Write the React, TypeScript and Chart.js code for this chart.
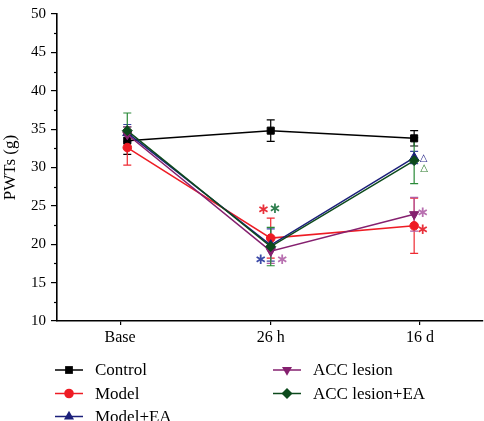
import React, { useEffect, useRef } from "react";
import { Chart, registerables } from "chart.js";

Chart.register(...registerables);

// ---------- data ----------
const categories = ["Base", "26 h", "16 d"];
const seriesNames = ["Control", "Model", "Model+EA", "ACC lesion", "ACC lesion+EA"];

const controlValues = [33.5, 34.8, 33.8];
const controlErrors = [1.8, 1.4, 1.0];
const modelValues = [32.6, 20.8, 22.4];
const modelErrors = [2.3, 2.6, 3.6];
const modelEaValues = [34.5, 19.9, 31.3];
const modelEaErrors = [1.1, 2.1, 0.8];
const accLesionValues = [34.3, 19.1, 23.9];
const accLesionErrors = [1.0, 1.6, 2.2];
const accLesionEaValues = [34.8, 19.7, 30.9];
const accLesionEaErrors = [2.3, 2.5, 3.0];

const pointPositions = [0, 1, 2];
const categoryTickPositions = [-0.05, 1, 2.04];
const yTickValues = [10, 15, 20, 25, 30, 35, 40, 45, 50];
const yMinorTickValues = [12.5, 17.5, 22.5, 27.5, 32.5, 37.5, 42.5, 47.5];

// significance marks: [text, x (category units), y (PWT units), color]
const markTexts = ["∗", "∗", "∗", "∗", "△", "△", "∗", "∗"];
const markX = [0.95, 1.03, 0.93, 1.08, 2.065, 2.07, 2.06, 2.06];
const markY = [24.4, 24.6, 17.9, 17.9, 31.2, 29.9, 24.1, 21.9];
const markColors = ["#e8303a", "#2f7f4f", "#3c4aa8", "#b870b0", "#2a2a8a", "#2a7a2a", "#b870b0", "#e8303a"];

// ---------- styles ----------
const FONT = "'Liberation Serif', 'Times New Roman', serif";
const lineColors = ["#000000", "#ee1c24", "#1b1f7a", "#85206f", "#0c4a1c"];
const errColors = ["#000000", "#ee2a32", "#3a45a0", "#b05ca4", "#2a8a38"];
const pointStyles = ["rect", "circle", "triangle", "triangle", "rectRot"];
const pointRotations = [0, 0, 0, 180, 0];
const pointRadii = [5, 4.3, 5.3, 5.3, 5];

const allValues = [controlValues, modelValues, modelEaValues, accLesionValues, accLesionEaValues];
const allErrors = [controlErrors, modelErrors, modelEaErrors, accLesionErrors, accLesionEaErrors];

function drawMarker(ctx: CanvasRenderingContext2D, style: string, rot: number, x: number, y: number, r: number, color: string) {
  ctx.save();
  ctx.fillStyle = color;
  ctx.beginPath();
  if (style === "rect") {
    const s = Math.SQRT1_2 * r;
    ctx.rect(x - s, y - s, 2 * s, 2 * s);
  } else if (style === "circle") {
    ctx.arc(x, y, r, 0, Math.PI * 2);
  } else if (style === "triangle") {
    const dir = rot === 180 ? -1 : 1;
    const h = r;
    ctx.moveTo(x, y - dir * h);
    ctx.lineTo(x + Math.sin((2 * Math.PI) / 3) * r, y + dir * r * 0.5);
    ctx.lineTo(x - Math.sin((2 * Math.PI) / 3) * r, y + dir * r * 0.5);
    ctx.closePath();
  } else if (style === "rectRot") {
    ctx.moveTo(x - r, y);
    ctx.lineTo(x, y - r);
    ctx.lineTo(x + r, y);
    ctx.lineTo(x, y + r);
    ctx.closePath();
  }
  ctx.fill();
  ctx.restore();
}

const errorBarPlugin = {
  id: "errorBars",
  beforeDatasetsDraw(chart: any) {
    const ctx = chart.ctx;
    const xs = chart.scales.x;
    const ys = chart.scales.y;
    ctx.save();
    allValues.forEach((vals, si) => {
      const errs = allErrors[si];
      ctx.strokeStyle = errColors[si];
      ctx.lineWidth = 1.2;
      vals.forEach((v, i) => {
        const px = xs.getPixelForValue(pointPositions[i]);
        const top = ys.getPixelForValue(v + errs[i]);
        const bot = ys.getPixelForValue(v - errs[i]);
        ctx.beginPath();
        ctx.moveTo(px, top);
        ctx.lineTo(px, bot);
        ctx.moveTo(px - 4, top);
        ctx.lineTo(px + 4, top);
        ctx.moveTo(px - 4, bot);
        ctx.lineTo(px + 4, bot);
        ctx.stroke();
      });
    });
    ctx.restore();
  },
};

const decorPlugin = {
  id: "decor",
  afterDraw(chart: any) {
    const ctx = chart.ctx;
    const xs = chart.scales.x;
    const ys = chart.scales.y;
    ctx.save();
    // minor y ticks
    ctx.strokeStyle = "#000";
    ctx.lineWidth = 1.2;
    const axisX = chart.chartArea.left;
    yMinorTickValues.forEach((v) => {
      const py = Math.round(ys.getPixelForValue(v)) + 0.5;
      ctx.beginPath();
      ctx.moveTo(axisX - 3, py);
      ctx.lineTo(axisX, py);
      ctx.stroke();
    });
    // significance marks
    ctx.textAlign = "center";
    ctx.textBaseline = "middle";
    markTexts.forEach((t, i) => {
      ctx.fillStyle = markColors[i];
      ctx.font = t === "△" ? `10px 'DejaVu Sans'` : `bold 15px 'DejaVu Sans'`;
      ctx.fillText(t, xs.getPixelForValue(markX[i]), ys.getPixelForValue(markY[i]));
    });
    // legend
    const colX = [55, 273];
    const rowY = [370, 393.5, 416.5];
    ctx.textAlign = "left";
    ctx.font = `17px ${FONT}`;
    seriesNames.forEach((name, i) => {
      const col = i < 3 ? 0 : 1;
      const row = i < 3 ? i : i - 3;
      const x0 = colX[col];
      const y0 = rowY[row];
      ctx.strokeStyle = lineColors[i];
      ctx.lineWidth = 1.5;
      ctx.beginPath();
      ctx.moveTo(x0, y0);
      ctx.lineTo(x0 + 28, y0);
      ctx.stroke();
      drawMarker(ctx, pointStyles[i], pointRotations[i], x0 + 14, y0, pointRadii[i] + 0.5, lineColors[i]);
      ctx.fillStyle = "#000";
      ctx.fillText(name, x0 + 40, y0 + 1);
    });
    ctx.restore();
  },
};

export default function App() {
  const canvasRef = useRef<HTMLCanvasElement | null>(null);

  useEffect(() => {
    document.body.style.margin = "0";
    const canvas = canvasRef.current;
    if (!canvas) return;
    const datasets = seriesNames.map((name, si) => ({
      label: name,
      data: allValues[si].map((v, i) => ({ x: pointPositions[i], y: v })),
      borderColor: lineColors[si],
      backgroundColor: lineColors[si],
      pointBackgroundColor: lineColors[si],
      pointBorderColor: lineColors[si],
      pointStyle: pointStyles[si] as any,
      rotation: pointRotations[si],
      pointRadius: pointRadii[si],
      pointBorderWidth: 1,
      borderWidth: 1.5,
      tension: 0,
      fill: false,
      order: seriesNames.length - si,
    }));

    const chart = new Chart(canvas, {
      type: "line",
      data: { datasets },
      plugins: [errorBarPlugin, decorPlugin],
      options: {
        animation: false,
        responsive: false,
        devicePixelRatio: 1,
        layout: { autoPadding: false, padding: { top: 6, right: 1, bottom: 70, left: 0 } },
        plugins: { legend: { display: false }, tooltip: { enabled: false } },
        scales: {
          x: {
            type: "linear",
            min: -0.49,
            max: 2.48,
            afterBuildTicks: (s: any) => {
              s.ticks = categoryTickPositions.map((v) => ({ value: v }));
            },
            afterFit: (s: any) => {
              s.height = 30;
            },
            ticks: {
              color: "#000",
              font: { family: FONT, size: 16 },
              padding: 3,
              maxRotation: 0,
              autoSkip: false,
              callback: (_v: any, i: number) => categories[i],
            },
            grid: { drawOnChartArea: false, drawTicks: true, tickLength: 4, color: "#000", lineWidth: 1.2 },
            border: { display: true, color: "#000", width: 1.6 },
          },
          y: {
            type: "linear",
            min: 10,
            max: 50,
            afterBuildTicks: (s: any) => {
              s.ticks = yTickValues.map((v) => ({ value: v }));
            },
            afterFit: (s: any) => {
              s.width = 57;
            },
            ticks: { color: "#000", font: { family: FONT, size: 15 }, padding: 5 },
            grid: { drawOnChartArea: false, drawTicks: true, tickLength: 6, color: "#000", lineWidth: 1.2 },
            border: { display: true, color: "#000", width: 1.6 },
            title: { display: true, text: "PWTs (g)", color: "#000", font: { family: FONT, size: 17 }, padding: 0 },
          },
        },
      },
    });
    return () => chart.destroy();
  }, []);

  return (
    <div style={{ position: "fixed", left: 0, top: 0, width: 484, height: 421, background: "#fff" }}>
      <canvas ref={canvasRef} width={484} height={421} style={{ display: "block" }} />
    </div>
  );
}
